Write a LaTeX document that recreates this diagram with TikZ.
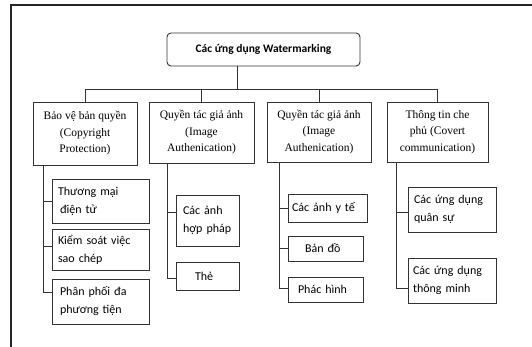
\documentclass[tikz,border=0pt]{standalone}
\usepackage{fontspec}
\setmainfont{Liberation Serif}
\newfontfamily\calfont{Carlito}
\begin{document}
\begin{tikzpicture}[x=1pt,y=-1pt,
  frameline/.style={line width=1.6pt, draw=black!85},
  conn/.style={line width=0.8pt, draw=black!80},
  rootbox/.style={draw=black!80, line width=0.9pt, rounded corners=4pt, minimum width=193pt, minimum height=33pt, font=\calfont\bfseries\fontsize{11.5}{14}\selectfont},
  topic/.style={draw=black!80, line width=0.8pt, align=center, inner sep=0pt, font=\fontsize{11.5}{16.5}\selectfont},
  leaf/.style={draw=black!80, line width=0.8pt, align=left, inner ysep=0pt, font=\calfont\fontsize{12}{18}\selectfont}
]
\useasboundingbox (0,0) rectangle (532,347);
% outer frame (left and top edges only visible)
\draw[frameline] (11,347) -- (11,5) -- (532,5);

% root
\node[rootbox] (root) at (263.5,49.5) {Các ứng dụng Watermarking};

% level 1
\node[topic, minimum width=104pt, minimum height=63pt] (b1) at (85,133.5) {Bảo vệ bản quyền\\(Copyright\\Protection)};
\node[topic, minimum width=105pt, minimum height=61pt] (b2) at (201.5,132.5) {Quyền tác giả ảnh\\(Image\\Authenication)};
\node[topic, minimum width=104pt, minimum height=60pt] (b3) at (319,132) {Quyền tác giả ảnh\\(Image\\Authenication)};
\node[topic, minimum width=101pt, minimum height=60pt] (b4) at (437.5,132) {Thông tin che\\phủ (Covert\\communication)};

% bus
\coordinate (bus) at (237,89);
\draw[conn] (root.south -| bus) -- (bus);
\draw[conn] (b1.north) -- (b1.north |- bus) -- (b4.north |- bus) -- (b4.north);
\draw[conn] (b2.north) -- (b2.north |- bus);
\draw[conn] (b3.north) -- (b3.north |- bus);

% level 2, column 1
\node[leaf, minimum height=44pt, inner xsep=6pt, text width=85pt] (c11) at (100.5,201) {Thương mại\\\hspace{2pt}điện tử};
\node[leaf, minimum height=41pt, inner xsep=6pt, text width=85pt] (c12) at (100.5,249.5) {Kiểm soát việc\\sao chép};
\node[leaf, minimum height=45pt, inner xsep=8pt, text width=81pt] (c13) at (100.5,301.5) {Phân phối đa\\phương tiện};
% column 2
\node[leaf, minimum height=51pt, inner xsep=7pt, text width=49pt] (c21) at (207.5,220.5) {Các ảnh\\hợp pháp};
\node[leaf, minimum height=28pt, inner xsep=19pt, text width=25pt] (c22) at (207.5,276) {Thẻ};
% column 3
\node[leaf, minimum height=28pt, inner xsep=4pt, text width=71pt] (c31) at (327.5,208) {Các ảnh y tế};
\node[leaf, minimum height=25pt, inner xsep=17pt, text width=41pt] (c32) at (325.5,248.5) {Bản đồ};
\node[leaf, minimum height=25pt, inner xsep=10pt, text width=55pt] (c33) at (325.5,289.5) {Phác hình};
% column 4
\node[leaf, minimum height=45pt, inner xsep=6pt, text width=76pt] (c41) at (452,209.5) {Các ứng dụng\\quân sự};
\node[leaf, minimum height=45pt, inner xsep=5pt, text width=78pt] (c42) at (452,280.5) {Các ứng dụng\\thông minh};

% spines
\coordinate (s1) at (43,0);
\coordinate (s2) at (167,0);
\coordinate (s3) at (279,0);
\coordinate (s4) at (396,0);

\draw[conn] (b1.south -| s1) |- ([yshift=9.5pt]c13.west);
\draw[conn] (c11.west) -- (c11.west -| s1);
\draw[conn] ([yshift=3.5pt]c12.west) -- ([yshift=3.5pt]c12.west -| s1);

\draw[conn] (b2.south -| s2) |- ([yshift=-2pt]c22.west);
\draw[conn] ([yshift=8.5pt]c21.west) -- ([yshift=8.5pt]c21.west -| s2);

\draw[conn] (b3.south -| s3) |- ([yshift=1.5pt]c33.west);
\draw[conn] (c31.west) -- (c31.west -| s3);
\draw[conn] (c32.west) -- (c32.west -| s3);

\draw[conn] (b4.south -| s4) |- ([yshift=-7.5pt]c42.west);
\draw[conn] ([yshift=-2.5pt]c41.west) -- ([yshift=-2.5pt]c41.west -| s4);
\end{tikzpicture}
\end{document}
